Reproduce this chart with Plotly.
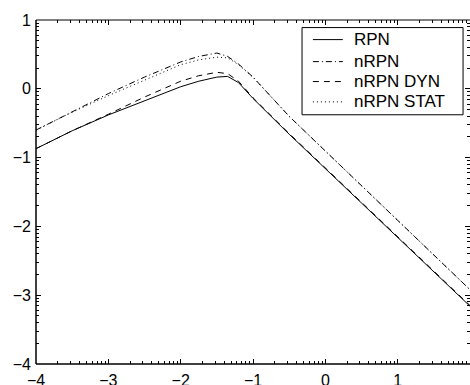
import math
import plotly.graph_objects as go

# Data (exponent units)
x_vals = [-4, -3.5, -3, -2.5, -2, -1.75, -1.5, -1.35, -1.2, -1.0, -0.5, 2]
rpn = [-0.87, -0.61, -0.38, -0.17, 0.03, 0.11, 0.17, 0.18, 0.09, -0.14, -0.66, -3.16]
nrpn = [-0.60, -0.33, -0.07, 0.17, 0.39, 0.47, 0.52, 0.47, 0.36, 0.17, -0.40, -2.92]
nrpn_dyn = [-0.87, -0.61, -0.37, -0.12, 0.11, 0.19, 0.24, 0.22, 0.11, -0.13, -0.65, -3.15]
nrpn_stat = [-0.60, -0.34, -0.10, 0.12, 0.35, 0.42, 0.46, 0.45, 0.35, 0.17, -0.40, -2.92]

series_names = ["RPN", "nRPN", "nRPN DYN", "nRPN STAT"]

x_ticks = [-4, -3, -2, -1, 0, 1, 2]
y_ticks = [-4, -3, -2, -1, 0, 1]
x_ticktext = ["\u22124", "\u22123", "\u22122", "\u22121", "0", "1", "2"]
y_ticktext = ["\u22124", "\u22123", "\u22122", "\u22121", "0", "1"]

minor_x = [n + math.log10(k) for n in range(-4, 2) for k in range(2, 10)]
minor_y = [n + math.log10(k) for n in range(-4, 1) for k in range(2, 10)]

dashes = ["solid", "6px,3px,1px,3px", "6px,5px", "1px,3px"]
values = [rpn, nrpn, nrpn_dyn, nrpn_stat]

fig = go.Figure()
for name, ys, dash in zip(series_names, values, dashes):
    fig.add_trace(go.Scatter(x=x_vals, y=ys, mode="lines", name=name, showlegend=False,
                             line=dict(color="black", width=1, dash=dash)))

FAM = "Liberation Sans, Arial, sans-serif"
font = dict(family=FAM, size=16, color="black")

fig.update_xaxes(range=[-4, 2], tickmode="array", tickvals=x_ticks, ticktext=x_ticktext,
                 showline=False, mirror="ticks", ticks="inside", ticklen=5,
                 tickcolor="black", tickwidth=1, showgrid=False, zeroline=False,
                 tickfont=font, ticklabelstandoff=5, automargin=False,
                 minor=dict(tickmode="array", tickvals=minor_x, ticks="inside", ticklen=3,
                            tickcolor="black", showgrid=False))
fig.update_yaxes(range=[-4, 1], tickmode="array", tickvals=y_ticks, ticktext=y_ticktext,
                 showline=False, mirror="ticks", ticks="inside", ticklen=5,
                 tickcolor="black", tickwidth=1, showgrid=False, zeroline=False,
                 tickfont=font, ticklabelstandoff=4, automargin=False,
                 minor=dict(tickmode="array", tickvals=minor_y, ticks="inside", ticklen=3,
                            tickcolor="black", showgrid=False))

shapes = [
    # frame: left, bottom, top (right edge lies just outside the picture)
    dict(type="line", xref="paper", yref="paper", x0=0, x1=0, y0=0, y1=1,
         line=dict(color="black", width=1.5)),
    dict(type="line", xref="paper", yref="paper", x0=0, x1=1.01, y0=0, y1=0,
         line=dict(color="black", width=1.5)),
    dict(type="line", xref="paper", yref="paper", x0=0, x1=1.01, y0=1, y1=1,
         line=dict(color="black", width=1)),
    # legend box
    dict(type="rect", xref="paper", yref="paper", x0=0.613, x1=0.984, y0=0.7245, y1=0.978,
         line=dict(color="black", width=1), fillcolor="white", layer="above"),
]
annotations = []
row_y = [0.943, 0.879, 0.821, 0.762]
for name, dash, yy in zip(series_names, dashes, row_y):
    shapes.append(dict(type="line", xref="paper", yref="paper", x0=0.638, x1=0.707,
                       y0=yy, y1=yy, line=dict(color="black", width=1, dash=dash),
                       layer="above"))
    annotations.append(dict(xref="paper", yref="paper", x=0.728, y=yy, text=name,
                            showarrow=False, xanchor="left", yanchor="middle",
                            font=dict(family=FAM, size=17, color="black")))

fig.update_layout(
    width=470, height=385,
    margin=dict(l=36, r=0, t=20, b=21, autoexpand=False),
    paper_bgcolor="white", plot_bgcolor="white",
    font=font,
    showlegend=False,
    shapes=shapes,
    annotations=annotations,
)

fig.write_html("out.html")
